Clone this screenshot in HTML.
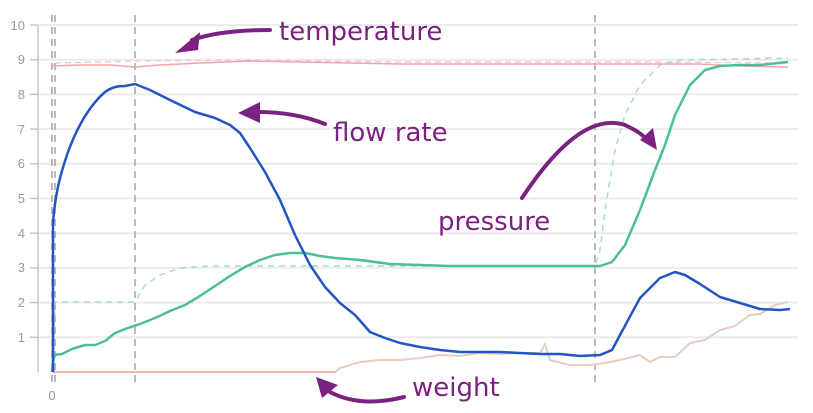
<!DOCTYPE html>
<html><head><meta charset="utf-8"><style>
html,body{margin:0;padding:0;background:#fff;}
svg{display:block;font-family:"Liberation Sans",sans-serif;}
</style></head><body>
<svg width="813" height="413" viewBox="0 0 813 413" xmlns="http://www.w3.org/2000/svg">
<g stroke="#ebebeb" stroke-width="2">
<line x1="38" x2="798" y1="25" y2="25"/><line x1="38" x2="798" y1="59.7" y2="59.7"/>
<line x1="38" x2="798" y1="94.4" y2="94.4"/><line x1="38" x2="798" y1="129.1" y2="129.1"/>
<line x1="38" x2="798" y1="163.8" y2="163.8"/><line x1="38" x2="798" y1="198.5" y2="198.5"/>
<line x1="38" x2="798" y1="233.2" y2="233.2"/><line x1="38" x2="798" y1="267.9" y2="267.9"/>
<line x1="38" x2="798" y1="302.6" y2="302.6"/><line x1="38" x2="798" y1="337.3" y2="337.3"/>
</g>
<g stroke="#c8c8c8" stroke-width="1.5">
<line x1="38" x2="38" y1="25" y2="372"/>
<line x1="30" x2="38" y1="25" y2="25"/><line x1="30" x2="38" y1="59.7" y2="59.7"/><line x1="30" x2="38" y1="94.4" y2="94.4"/><line x1="30" x2="38" y1="129.1" y2="129.1"/><line x1="30" x2="38" y1="163.8" y2="163.8"/><line x1="30" x2="38" y1="198.5" y2="198.5"/><line x1="30" x2="38" y1="233.2" y2="233.2"/><line x1="30" x2="38" y1="267.9" y2="267.9"/><line x1="30" x2="38" y1="302.6" y2="302.6"/><line x1="30" x2="38" y1="337.3" y2="337.3"/>
</g>
<g fill="#999" font-size="13" text-anchor="end">
<text x="25" y="30">10</text><text x="25" y="64">9</text><text x="25" y="99">8</text><text x="25" y="134">7</text><text x="25" y="168">6</text><text x="25" y="203">5</text><text x="25" y="238">4</text><text x="25" y="272">3</text><text x="25" y="307">2</text><text x="25" y="342">1</text>
</g>
<text x="52" y="400" fill="#999" font-size="13" text-anchor="middle">0</text>
<g stroke="#aaa" stroke-width="1.6" stroke-dasharray="7,5">
<line x1="52" x2="52" y1="15" y2="383"/><line x1="55" x2="55" y1="15" y2="383"/>
<line x1="135" x2="135" y1="15" y2="383"/><line x1="595" x2="595" y1="15" y2="383"/>
</g>
<path d="M55,63 L135,61 L250,60 L400,62 L520,62 L640,62 L788,63" fill="none" stroke="#f7c2c6" stroke-width="1.2" stroke-dasharray="6,4"/>
<path d="M52,66 L80,65 L110,65 L135,67 L160,65 L200,63 L250,61 L300,62 L350,63 L400,64 L450,64 L500,64 L550,64 L600,64 L650,64 L700,64 L740,66 L788,67" fill="none" stroke="#f4a3a9" stroke-width="1.5"/>
<path d="M52,372 L335,372 L340,368 L350,365 L360,362 L380,360 L400,360 L420,358 L440,355 L460,356 L480,353 L500,354 L520,353 L540,353 L545,344 L550,360 L570,365 L590,365 L605,363 L620,360 L640,355 L650,362 L660,357 L675,357 L690,343 L705,340 L720,330 L735,326 L750,315 L760,314 L775,305 L788,302" fill="none" stroke="#e6cdbd" stroke-width="2"/>
<line x1="52" x2="335" y1="372" y2="372" stroke="#f0b7a8" stroke-width="2"/>
<path d="M53,372 L55,302 L135,302 L145,285 L160,275 L180,268 L210,266 L595,266 L600,250 L605,210 L615,150 L625,115 L640,85 L660,65 L680,60 L788,58" fill="none" stroke="#a8dcc9" stroke-width="1.5" stroke-dasharray="6,5"/>
<path d="M52,372 L54,355 L62,354 L72,349 L85,345 L95,345 L105,341 L115,333 L125,329 L140,324 L155,318 L170,311 L185,305 L200,296 L215,286 L230,276 L245,267 L260,260 L275,255 L290,253 L305,253 L320,256 L335,258 L360,260 L390,264 L420,265 L450,266 L500,266 L550,266 L580,266 L600,266 L612,262 L625,245 L640,210 L655,170 L665,145 L675,115 L690,85 L705,70 L720,66 L740,65 L760,65 L788,62" fill="none" stroke="#4cbf98" stroke-width="2.5" stroke-linejoin="round"/>
<path d="M53,372 L53,223 C55,195 60,175 68,152 C78,125 90,105 105,92 C112,87 118,86 125,86 L135,84 L150,90 L170,100 L195,112 L215,118 L230,125 L240,133 L250,148 L265,172 L280,200 L295,235 L310,265 L325,287 L340,303 L355,315 L370,332 L385,338 L400,343 L420,347 L440,350 L460,352 L480,352 L500,352 L520,353 L540,354 L560,354 L580,356 L600,355 L612,350 L620,335 L640,298 L660,278 L675,272 L685,275 L700,284 L720,297 L740,303 L760,309 L780,310 L790,309" fill="none" stroke="#2356c4" stroke-width="2.5" stroke-linejoin="round"/>
<g fill="#7b2281" font-size="26" font-family="'DejaVu Sans','Liberation Sans',sans-serif">
<text x="279" y="40">temperature</text>
<text x="333" y="141">flow rate</text>
<text x="438" y="230">pressure</text>
<text x="412" y="396">weight</text>
</g>
<g fill="none" stroke="#7b2281" stroke-width="4" stroke-linecap="round">
<path d="M270,30 Q220,30 192,40"/>
<path d="M325,124 Q295,112 258,112"/>
<path d="M522,198 Q580,110 625,125 Q640,132 645,138"/>
<path d="M404,397 Q360,408 330,392"/>
</g>
<g fill="#7b2281">
<polygon points="175,53 200,32 198,50"/>
<polygon points="238,113 260,102 260,123"/>
<polygon points="657,150 640,140 653,128"/>
<polygon points="316,377 338,385 322,398"/>
</g>
</svg>
</body></html>
